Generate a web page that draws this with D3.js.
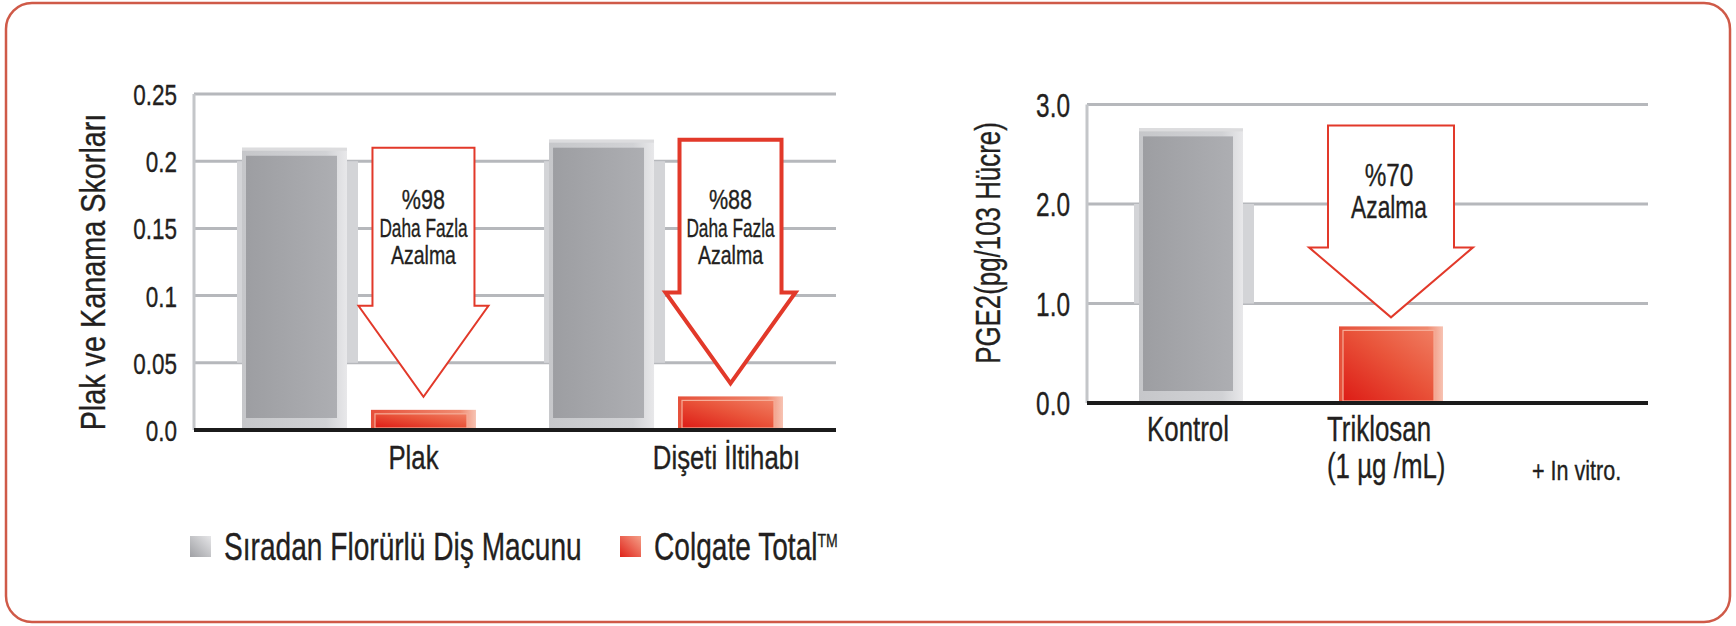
<!DOCTYPE html>
<html>
<head>
<meta charset="utf-8">
<script src="https://cdn.jsdelivr.net/npm/d3@7"></script>
<style>
  body { margin: 0; background: #fff; }
  text { font-family: "Liberation Sans", Arial, sans-serif; fill: #231f20; stroke: #231f20; stroke-width: 0.35px; }
</style>
</head>
<body>
<svg id="chart" width="1736" height="626"></svg>
<script>
// left chart: plaque / bleeding scores
var plakCategories = ['Plak', 'Dişeti İltihabı'];
var plakStandard = [0.21, 0.216];
var plakTotal = [0.015, 0.025];
var plakReduction = [['%98', 'Daha Fazla', 'Azalma'], ['%88', 'Daha Fazla', 'Azalma']];
var plakTicks = [0, 0.05, 0.1, 0.15, 0.2, 0.25];

// right chart: PGE2
var pgeCategories = ['Kontrol', 'Triklosan'];
var pgeSubLabels = ['', '(1 µg /mL)'];
var pgeValues = [2.76, 0.77];
var pgeReduction = ['%70', 'Azalma'];
var pgeTicks = [0, 1, 2, 3];

var legendLabels = ['Sıradan Florürlü Diş Macunu', 'Colgate Total'];

var svg = d3.select('#chart');
var defs = svg.append('defs');

function grad(id, x1, y1, x2, y2, stops) {
    var lg = defs.append('linearGradient').attr('id', id)
        .attr('x1', x1).attr('y1', y1).attr('x2', x2).attr('y2', y2);
    stops.forEach(function(s) {
        lg.append('stop').attr('offset', s[0]).attr('stop-color', s[1]);
    });
}
grad('grayOuter', 0, 0, 1, 0, [[0, '#c6c7ca'], [0.8, '#d1d2d5'], [1, '#e8e8ea']]);
grad('grayInner', 0, 0, 1, 0, [[0, '#9d9ea2'], [0.5, '#a5a6aa'], [1, '#adaeb2']]);
grad('redOuter', 0, 0, 1, 0, [[0, '#e6503a'], [0.85, '#ef8a70'], [1, '#f7c3b3']]);
grad('redInner', 0, 1, 1, 0, [[0, '#dd1c16'], [0.55, '#e9543a'], [1, '#f07d61']]);
grad('grayKey', 0, 1, 1, 0, [[0, '#9fa0a4'], [1, '#e6e6e8']]);
grad('redKey', 0, 1, 1, 0, [[0, '#e0231a'], [1, '#f5a088']]);

// frame round the whole graphic
svg.append('rect')
    .attr('x', 6).attr('y', 3).attr('width', 1724).attr('height', 619).attr('rx', 26)
    .attr('fill', 'none').attr('stroke', '#cf5a48').attr('stroke-width', 2.5);

function label(g, x, y, str, size, anchor, sx) {
    return g.append('text')
        .attr('transform', 'translate(' + x + ',' + y + ') scale(' + (sx || 0.8) + ',1)')
        .attr('text-anchor', anchor || 'middle')
        .attr('dy', '0.35em')
        .style('font-size', size + 'px')
        .text(str);
}

function frame(g, y, ticks, left, right, fmt, size, sx) {
    g.selectAll('.grid').data(ticks.slice(1)).enter().append('line')
        .attr('class', 'grid')
        .attr('x1', left).attr('x2', right)
        .attr('y1', function(d) { return y(d); })
        .attr('y2', function(d) { return y(d); })
        .attr('stroke', '#b6b8bc').attr('stroke-width', 3);
    g.append('line')
        .attr('x1', left).attr('x2', left)
        .attr('y1', y(ticks[ticks.length - 1])).attr('y2', y(0))
        .attr('stroke', '#c4c6c9').attr('stroke-width', 3);
    var axis = d3.axisLeft(y).tickValues(ticks).tickFormat(fmt).tickSize(0).tickPadding(0);
    var ax = g.append('g').attr('transform', 'translate(' + (left - 17) + ',0)').call(axis);
    ax.select('.domain').remove();
    ax.selectAll('text')
        .attr('x', 0).attr('dy', '0.35em')
        .attr('transform', 'scale(' + sx + ',1)')
        .style('font-size', size + 'px')
        .style('font-family', '"Liberation Sans", Arial, sans-serif')
        .attr('fill', '#231f20');
}

function backWall(g, x, w, yTop, yBottom) {
    g.append('rect')
        .attr('x', x - 5).attr('y', yTop)
        .attr('width', w + 16).attr('height', yBottom - yTop)
        .attr('fill', '#d3d4d7');
}

function grayBar(g, x, w, yTop, yBase) {
    g.append('rect')
        .attr('x', x).attr('y', yTop).attr('width', w).attr('height', yBase - yTop)
        .attr('fill', 'url(#grayOuter)');
    g.append('rect')
        .attr('x', x).attr('y', yTop).attr('width', w).attr('height', 3)
        .attr('fill', '#dcdcde');
    g.append('rect')
        .attr('x', x + 4).attr('y', yTop + 8)
        .attr('width', w - 14).attr('height', yBase - yTop - 20)
        .attr('fill', 'url(#grayInner)');
}

function redBar(g, x, w, yTop, yBase) {
    g.append('rect')
        .attr('x', x).attr('y', yTop).attr('width', w).attr('height', yBase - yTop)
        .attr('fill', 'url(#redOuter)');
    g.append('rect')
        .attr('x', x + 4).attr('y', yTop + 4)
        .attr('width', w - 13).attr('height', yBase - yTop - 6)
        .attr('fill', 'url(#redInner)')
        .attr('stroke', '#f6ad98').attr('stroke-width', 1.2);
}

function arrow(g, cx, top, tip, shaftHalf, headHalf, headH, thick) {
    var base = tip - headH;
    var pts = [[cx - shaftHalf, top], [cx + shaftHalf, top], [cx + shaftHalf, base],
        [cx + headHalf, base], [cx, tip], [cx - headHalf, base], [cx - shaftHalf, base]];
    g.append('path')
        .attr('d', d3.line()(pts) + 'Z')
        .attr('fill', '#fff')
        .attr('stroke', '#e2392a')
        .attr('stroke-width', thick)
        .attr('stroke-linejoin', 'miter');
}

function baseline(g, left, right, y0) {
    g.append('line')
        .attr('x1', left).attr('x2', right).attr('y1', y0).attr('y2', y0)
        .attr('stroke', '#1b1b1b').attr('stroke-width', 4);
}

// ---------------- left chart ----------------
var gL = svg.append('g');
var plakY = d3.scaleLinear().domain([0, 0.25]).range([430, 94]);
var plakX = d3.scaleBand().domain(plakCategories).range([242, 783]).paddingInner(0.238);
var plakSeries = d3.scaleBand().domain(['std', 'total']).range([0, plakX.bandwidth()]).paddingInner(0.186);
var plakLeft = 194, plakRight = 836;

frame(gL, plakY, plakTicks, plakLeft, plakRight,
    function(d) { return d === 0 ? '0.0' : String(d); }, 30, 0.75);

plakCategories.forEach(function(c) {
    backWall(gL, plakX(c) + plakSeries('std'), plakSeries.bandwidth(), plakY(0.2), plakY(0.05));
});
plakCategories.forEach(function(c, i) {
    var xs = plakX(c) + plakSeries('std');
    var xt = plakX(c) + plakSeries('total');
    var bw = plakSeries.bandwidth();
    var cx = xt + bw / 2;
    grayBar(gL, xs, bw, plakY(plakStandard[i]), plakY(0));
    arrow(gL, cx, plakY(plakStandard[i]), plakY(plakTotal[i]) - 13, 51, 65, 91, i === 1 ? 4 : 2);
    redBar(gL, xt, bw, plakY(plakTotal[i]), plakY(0));
    var lines = plakReduction[i];
    label(gL, cx, 200, lines[0], 27, 'middle', 0.8);
    label(gL, cx, 228, lines[1], 25, 'middle', 0.69);
    label(gL, cx, 255, lines[2], 25, 'middle', 0.78);
    label(gL, cx - (i === 0 ? 10 : 4), 457, c, 33, 'middle', 0.78);
});
baseline(gL, plakLeft, plakRight, plakY(0));

label(gL, 92, 272, 'Plak ve Kanama Skorları', 36, 'middle')
    .attr('transform', 'translate(92,272) rotate(-90) scale(0.8,1)');

// ---------------- right chart ----------------
var gR = svg.append('g');
var pgeY = d3.scaleLinear().domain([0, 3]).range([403, 104.5]);
var pgeX = d3.scaleBand().domain(pgeCategories).range([1139, 1443]).paddingInner(0.48);
var pgeLeft = 1087, pgeRight = 1648;

frame(gR, pgeY, pgeTicks, pgeLeft, pgeRight, function(d) { return d.toFixed(1); }, 33, 0.74);

var bwR = pgeX.bandwidth();
backWall(gR, pgeX(pgeCategories[0]), bwR, pgeY(2), pgeY(1));
grayBar(gR, pgeX(pgeCategories[0]), bwR, pgeY(pgeValues[0]), pgeY(0));
var cxR = pgeX(pgeCategories[1]) + bwR / 2;
arrow(gR, cxR, pgeY(pgeValues[0]) - 3, pgeY(pgeValues[1]) - 9, 63, 82, 70, 2);
redBar(gR, pgeX(pgeCategories[1]), bwR, pgeY(pgeValues[1]), pgeY(0));
label(gR, cxR - 2, 175, pgeReduction[0], 32, 'middle', 0.76);
label(gR, cxR - 2, 207, pgeReduction[1], 32, 'middle', 0.71);
baseline(gR, pgeLeft, pgeRight, pgeY(0));

// Kontrol centred under its bar, Triklosan and its dose line share a left edge
label(gR, pgeX(pgeCategories[0]) + bwR / 2 - 3, 429, pgeCategories[0], 35, 'middle', 0.74);
label(gR, pgeX(pgeCategories[1]) - 12, 429, pgeCategories[1], 35, 'start', 0.74);
label(gR, pgeX(pgeCategories[1]) - 12, 466, pgeSubLabels[1], 35, 'start', 0.74);
label(gR, 1532, 470, '+ In vitro.', 28, 'start', 0.77);

label(gR, 988, 243, 'PGE2(pg/103 Hücre)', 35, 'middle')
    .attr('transform', 'translate(988,243) rotate(-90) scale(0.74,1)');

// ---------------- legend ----------------
var gLeg = svg.append('g');
var keyX = [190, 620];
var keyFill = ['url(#grayKey)', 'url(#redKey)'];
legendLabels.forEach(function(t, i) {
    gLeg.append('rect')
        .attr('x', keyX[i]).attr('y', 536).attr('width', 21).attr('height', 21)
        .attr('fill', keyFill[i]);
    var tx = label(gLeg, keyX[i] + 34, 547, t, 38, 'start', 0.74);
    if (i === 1) {
        tx.append('tspan').attr('dy', '-0.7em').style('font-size', '19px').text('TM');
    }
});
</script>
</body>
</html>
